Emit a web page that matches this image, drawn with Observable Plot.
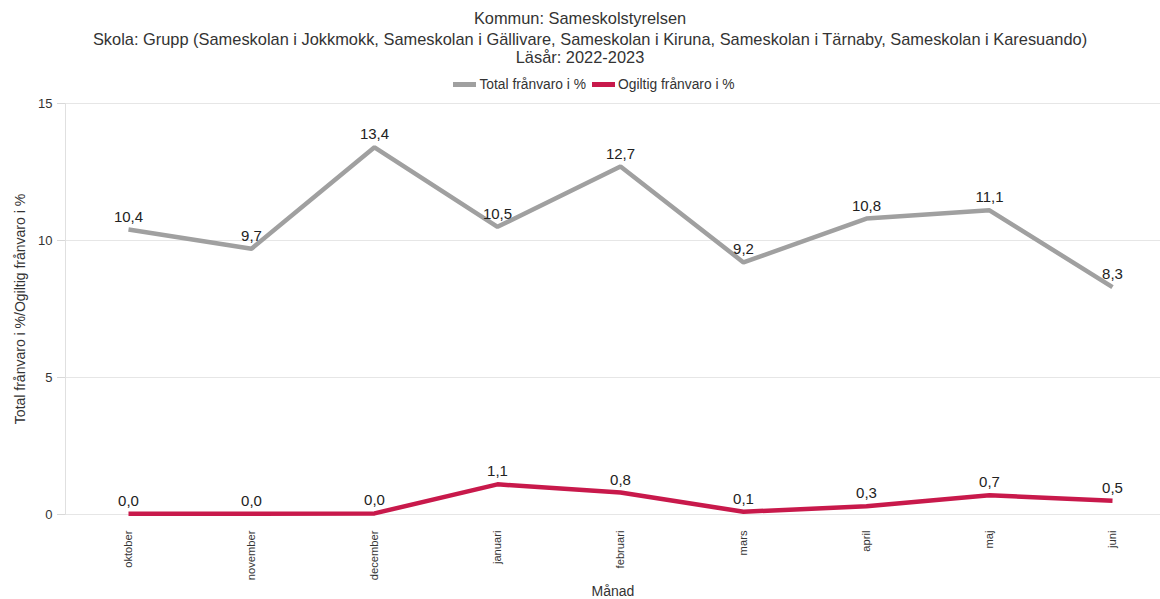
<!DOCTYPE html>
<html>
<head>
<meta charset="utf-8">
<script src="https://cdn.jsdelivr.net/npm/d3@7"></script>
<script src="https://cdn.jsdelivr.net/npm/@observablehq/plot@0.6"></script>
<style>
  html, body { margin: 0; padding: 0; background: #fff; }
  body { width: 1160px; height: 599px; overflow: hidden; font-family: "Liberation Sans", Arial, sans-serif; color: #333; }
  #header { height: 95px; position: relative; }
  .t { position: absolute; left: 0; width: 1160px; text-align: center; font-size: 16.4px; white-space: nowrap; line-height: 1; }
  #legend { position: absolute; top: 78px; left: 14px; width: 1160px; text-align: center; font-size: 13.8px; line-height: 1; }
  .sw { display: inline-block; width: 23px; height: 5px; vertical-align: middle; margin-right: 3px; position: relative; top: -1px; }
  .li { display: inline-block; margin: 0 3px; }
</style>
</head>
<body>
<div id="header">
  <div class="t" style="top:10px">Kommun: Sameskolstyrelsen</div>
  <div class="t" style="top:31px; left:10px">Skola: Grupp (Sameskolan i Jokkmokk, Sameskolan i Gällivare, Sameskolan i Kiruna, Sameskolan i Tärnaby, Sameskolan i Karesuando)</div>
  <div class="t" style="top:49px">Läsår: 2022-2023</div>
  <div id="legend"></div>
</div>
<div id="chart"></div>
<script>
const months = ["oktober", "november", "december", "januari", "februari", "mars", "april", "maj", "juni"];
const total = [10.4, 9.7, 13.4, 10.5, 12.7, 9.2, 10.8, 11.1, 8.3];
const ogiltig = [0.03, 0.03, 0.04, 1.1, 0.8, 0.1, 0.3, 0.7, 0.5];
const seriesNames = ["Total frånvaro i %", "Ogiltig frånvaro i %"];
const seriesColors = ["#a0a0a0", "#c8194b"];
const yTicks = [0, 5, 10, 15];

const rows = [];
months.forEach((m, i) => {
  rows.push({month: m, value: total[i], series: seriesNames[0]});
  rows.push({month: m, value: ogiltig[i], series: seriesNames[1]});
});

const fmt = v => v.toFixed(1).replace(".", ",");

// legend
const legend = document.getElementById("legend");
seriesNames.forEach((n, i) => {
  const s = document.createElement("span");
  s.className = "li";
  s.innerHTML = `<span class="sw" style="background:${seriesColors[i]}"></span>${n}`;
  legend.appendChild(s);
});

const chart = Plot.plot({
  width: 1160,
  height: 504,
  marginLeft: 65,
  marginRight: 0,
  marginTop: 8,
  marginBottom: 85,
  style: {fontFamily: "'Liberation Sans', Arial, sans-serif", color: "#333", background: "#fff"},
  x: {type: "point", domain: months, range: [125, 1115], padding: 0},
  y: {domain: [0, 15]},
  color: {domain: seriesNames, range: seriesColors},
  marks: [
    Plot.gridY(yTicks, {stroke: "#e6e6e6", strokeOpacity: 1}),
    Plot.frame({anchor: "left", stroke: "#e0e0e0"}),
    Plot.axisY(yTicks, {tickSize: 8, tickPadding: 5, fontSize: 13, label: null, stroke: "#d8d8d8", tickFormat: d => String(d)}),
    Plot.axisX({tickSize: 0, tickPadding: 16, tickRotate: -90, fontSize: 11.2, label: null}),
    Plot.text(["Månad"], {frameAnchor: "bottom", dy: 77, fontSize: 14, lineAnchor: "middle"}),
    Plot.text(["Total frånvaro i %/Ogiltig frånvaro i %"], {frameAnchor: "left", dx: -45, rotate: -90, fontSize: 14, textAnchor: "middle"}),
    Plot.line(rows, {x: "month", y: "value", z: "series", stroke: "series", strokeWidth: 4.5, strokeLinejoin: "miter", strokeLinecap: "butt"}),
    Plot.text(rows, {x: "month", y: "value", text: d => fmt(d.value), dy: -8, lineAnchor: "bottom", fontSize: 15, fill: "#222"})
  ]
});
document.getElementById("chart").appendChild(chart);
</script>
</body>
</html>
